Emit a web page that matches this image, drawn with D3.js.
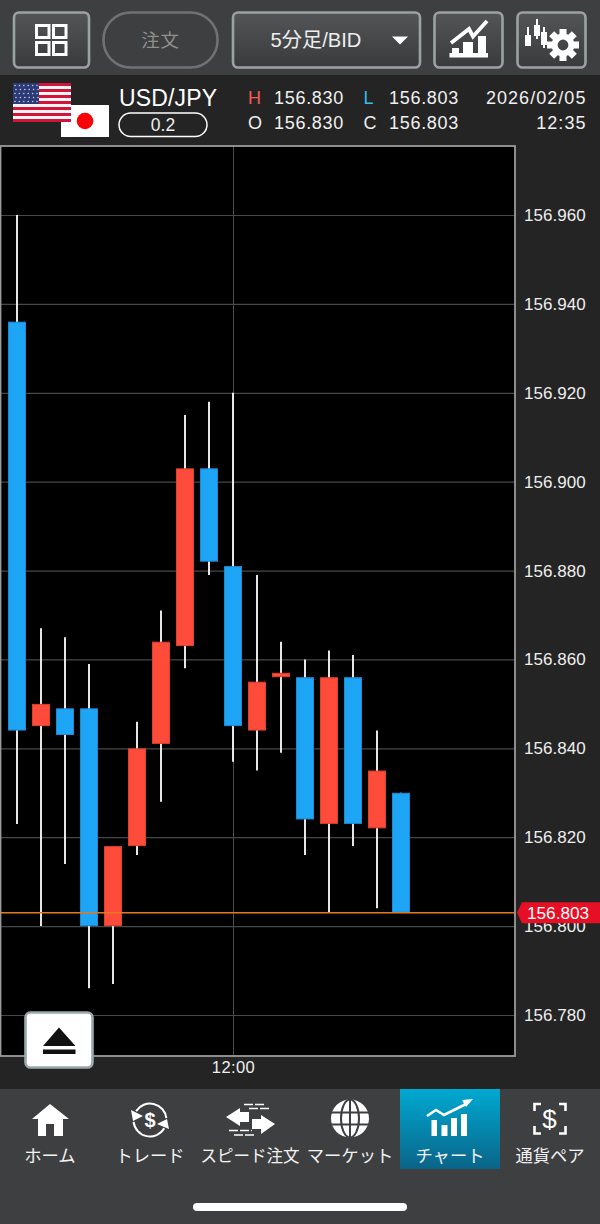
<!DOCTYPE html>
<html><head><meta charset="utf-8">
<script src="https://cdn.jsdelivr.net/npm/d3@7/dist/d3.min.js"></script>
<style>html,body{margin:0;padding:0;background:#232323}svg{display:block}
text{font-family:"Liberation Sans","Noto Sans CJK JP",sans-serif}</style></head><body>
<script>
const times=["11:15","11:20","11:25","11:30","11:35","11:40","11:45","11:50","11:55","12:00","12:05","12:10","12:15","12:20","12:25","12:30","12:35"];
const opens =[156.936,156.845,156.849,156.849,156.800,156.818,156.841,156.863,156.903,156.881,156.844,156.856,156.856,156.823,156.856,156.822,156.830];
const closes=[156.844,156.850,156.843,156.800,156.818,156.840,156.864,156.903,156.882,156.845,156.855,156.857,156.824,156.856,156.823,156.835,156.803];
const highs =[156.960,156.867,156.865,156.859,156.818,156.846,156.871,156.915,156.918,156.920,156.879,156.864,156.860,156.862,156.861,156.844,156.830];
const lows  =[156.823,156.800,156.814,156.786,156.787,156.816,156.828,156.858,156.879,156.837,156.835,156.839,156.816,156.803,156.818,156.804,156.803];
const priceTicks=[156.78,156.80,156.82,156.84,156.86,156.88,156.90,156.92,156.94,156.96];
const timeTicks=["12:00"];
const currentPrice=156.803;
const quoteRows=[["H","156.830","L","156.803","2026/02/05"],["O","156.830","C","156.803","12:35"]];
const navLabels=["ホーム","トレード","スピード注文","マーケット","チャート","通貨ペア"];

const W=600,H=1224;
const svg=d3.select("body").append("svg").attr("width",W).attr("height",H).attr("viewBox",`0 0 ${W} ${H}`);
const defs=svg.append("defs");
function grad(id,a,b){const g=defs.append("linearGradient").attr("id",id).attr("x1",0).attr("x2",0).attr("y1",0).attr("y2",1);
 g.append("stop").attr("offset",0).attr("stop-color",a);g.append("stop").attr("offset",1).attr("stop-color",b);}
grad("btn","#535557","#393a3c");grad("act","#00a9d2","#0a6488");
svg.append("rect").attr("width",W).attr("height",H).attr("fill","#242424");
svg.append("rect").attr("width",W).attr("height",75).attr("fill","#3e3f41");
svg.append("rect").attr("y",1089).attr("width",W).attr("height",135).attr("fill","#3e3f41");

// header buttons
function btn(x,w,r,stroke){svg.append("rect").attr("x",x).attr("y",12.5).attr("width",w).attr("height",55).attr("rx",r).attr("fill",r>10?"#3e3f41":"url(#btn)").attr("stroke",stroke).attr("stroke-width",2.6);}
btn(14,75,5,"#9aa3a3");btn(103.5,114,27,"#6f7274");btn(233,187,5,"#9aa3a3");btn(434.5,68,5,"#9aa3a3");btn(517.5,68,5,"#9aa3a3");
// grid icon
[[35,24],[52,24],[35,41],[52,41]].forEach(([x,y])=>svg.append("rect").attr("x",x+1.5).attr("y",y+1.5).attr("width",12.5).attr("height",12).attr("fill","none").attr("stroke","#fff").attr("stroke-width",3));
svg.append("text").attr("x",160.5).attr("y",47).attr("text-anchor","middle").attr("font-size",18.5).attr("letter-spacing",.8).attr("fill","#8f8f8f").text("注文");
svg.append("text").attr("x",316).attr("y",47).attr("text-anchor","middle").attr("font-size",20.2).attr("fill","#eeeeee").text("5分足/BID");
svg.append("path").attr("d","M392 36.5H408L400 44.5Z").attr("fill","#fff");
// chart icon
svg.append("path").attr("d","M449.5 53H488V57.5H449.5ZM452 48H459V53H452ZM463 42H473V53H463ZM478 36H486V53H478Z").attr("fill","#fff");
svg.append("path").attr("d","M451 43L469 29L473 36.5L487 21").attr("fill","none").attr("stroke","#fff").attr("stroke-width",3.8);
// settings icon
[[528,35,11,27,46],[537,25,11,19,39],[544,32,13,27,48]].forEach(([x,y,h,a,b])=>{
 svg.append("rect").attr("x",x-1).attr("y",a).attr("width",2).attr("height",b-a).attr("fill","#fff");
 svg.append("rect").attr("x",x-3).attr("y",y).attr("width",6).attr("height",h).attr("fill","#fff");});
const gear=svg.append("g").attr("transform","translate(563,45)");
d3.range(8).forEach(i=>gear.append("rect").attr("x",-3.5).attr("y",-16).attr("width",7).attr("height",8).attr("fill","#fff").attr("transform",`rotate(${i*45})`));
gear.append("circle").attr("r",8.4).attr("fill","none").attr("stroke","#fff").attr("stroke-width",6);

// flags
svg.append("rect").attr("x",61).attr("y",105).attr("width",48).attr("height",32).attr("fill","#fff");
svg.append("circle").attr("cx",85).attr("cy",121).attr("r",8.3).attr("fill","#fb0007");
const us=svg.append("g");
d3.range(13).forEach(i=>us.append("rect").attr("x",13).attr("y",83+i*3).attr("width",58).attr("height",3).attr("fill",i%2?"#f4f4f4":"#d2143a"));
us.append("rect").attr("x",13).attr("y",83).attr("width",26).attr("height",21).attr("fill","#2c3a78");
d3.range(5).forEach(r=>d3.range(6).forEach(c=>us.append("circle").attr("cx",15+c*4.4+(r%2?1:0)).attr("cy",85.5+r*4).attr("r",.8).attr("fill","#ccd")));

svg.append("text").attr("x",119).attr("y",106).attr("font-size",23).attr("letter-spacing",.15).attr("fill","#fff").text("USD/JPY");
svg.append("rect").attr("x",119).attr("y",113).attr("width",88).attr("height",23.5).attr("rx",11.7).attr("fill","none").attr("stroke","#fff").attr("stroke-width",1.5);
svg.append("text").attr("x",163).attr("y",131).attr("text-anchor","middle").attr("font-size",17.5).attr("fill","#f0f0f0").text("0.2");

// quote rows
quoteRows.forEach((r,i)=>{const y=104+i*24.5;
 const t=(x,s,c,a,ls)=>svg.append("text").attr("x",x).attr("y",y).attr("font-size",18).attr("letter-spacing",ls||.7).attr("text-anchor",a||"start").attr("fill",c).text(s);
 t(248,r[0],i?"#eeeeee":"#f85a5a");t(274,r[1],"#f0f0f0");
 t(363.5,r[2],i?"#eeeeee":"#35bdf0");t(389,r[3],"#f0f0f0");t(586.5,r[4],"#f0f0f0","end",1.05);
});

// chart
const plot={l:0,r:515,t:146,b:1056};
svg.append("rect").attr("x",plot.l).attr("y",plot.t).attr("width",plot.r-plot.l).attr("height",plot.b-plot.t).attr("fill","#000");
const x=d3.scalePoint().domain(times).range([17,401]);
const y=d3.scaleLinear().domain([156.78,156.96]).range([1015,215]);

const yAxis=d3.axisRight(y).tickValues(priceTicks).tickFormat(d3.format(".3f")).tickSizeInner(-(plot.r-plot.l)).tickSizeOuter(0).tickPadding(9);
const gy=svg.append("g").attr("transform",`translate(${plot.r},0)`).call(yAxis);
gy.select(".domain").remove();
gy.selectAll("line").attr("stroke","#484848").attr("stroke-width",1.2);
gy.selectAll("text").attr("font-size",17).attr("fill","#eeeeee").attr("letter-spacing",.05);

const xAxis=d3.axisBottom(x).tickValues(timeTicks).tickSizeInner(-(plot.b-plot.t)).tickSizeOuter(0).tickPadding(5);
const gx=svg.append("g").attr("transform",`translate(0,${plot.b})`).call(xAxis);
gx.select(".domain").remove();
gx.selectAll("line").attr("stroke","#4c4c4c").attr("stroke-width",1);
gx.selectAll("text").attr("font-size",16.5).attr("fill","#eeeeee").attr("letter-spacing",.4);

const candles=times.map((t,i)=>({t,o:opens[i],c:closes[i],h:highs[i],l:lows[i]}));
const bw=18;
const cg=svg.append("g");
cg.selectAll("line.w").data(candles).join("line").attr("class","w")
 .attr("x1",d=>x(d.t)).attr("x2",d=>x(d.t)).attr("y1",d=>y(d.h)).attr("y2",d=>y(d.l))
 .attr("stroke","#fff").attr("stroke-width",1.8);
cg.selectAll("rect.b").data(candles).join("rect").attr("class","b")
 .attr("x",d=>x(d.t)-bw/2+.5).attr("width",bw-1)
 .attr("y",d=>y(Math.max(d.o,d.c))+.5).attr("height",d=>Math.max(0,Math.abs(y(d.o)-y(d.c))-1))
 .attr("fill",d=>d.c>d.o?"#ff4b3a":"#1fa5f6")
 .attr("stroke",d=>d.c>d.o?"#d8402f":"#1a8bd2").attr("stroke-width",1);

svg.append("line").attr("x1",0).attr("x2",plot.r).attr("y1",y(currentPrice)).attr("y2",y(currentPrice)).attr("stroke","#e8781f").attr("stroke-width",1.5);
svg.append("rect").attr("x",plot.l+.5).attr("y",plot.t).attr("width",plot.r-.5).attr("height",plot.b-plot.t).attr("fill","none").attr("stroke","#9b9b9b").attr("stroke-width",1.8);

// price tag
const ty=y(currentPrice);
svg.append("path").attr("d",`M517 ${ty}L522 ${ty-10.5}H600V${ty+10.5}H522Z`).attr("fill","#e60f25");
svg.append("text").attr("x",527).attr("y",ty+6.2).attr("font-size",17.2).attr("fill","#fff").text(d3.format(".3f")(currentPrice));

// eject button
svg.append("rect").attr("x",25.5).attr("y",1012.5).attr("width",67).attr("height",55).attr("rx",5).attr("fill","#fff").attr("stroke","#9aa8a8").attr("stroke-width",2.6);
svg.append("path").attr("d","M59 1027.5L75.5 1046H43Z M43 1049.5H75.5V1054H43Z").attr("fill","#111");

// nav
svg.append("rect").attr("x",400).attr("y",1089).attr("width",100).attr("height",80).attr("fill","url(#act)");
navLabels.forEach((s,i)=>svg.append("text").attr("x",50+i*100).attr("y",1162).attr("text-anchor","middle").attr("font-size",i==2?16.5:17.3).attr("fill","#f2f2f2").text(s));
// home
svg.append("path").attr("d","M50 1104L69 1119H63V1136H54V1124H46V1136H38V1119H32Z").attr("fill","#fff");
// trade
const tr=svg.append("g").attr("transform","translate(150,1120)");
const arc=d3.arc().innerRadius(15.5).outerRadius(17.5);
tr.append("path").attr("d",arc({startAngle:-1.0,endAngle:1.45})).attr("fill","#fff");
tr.append("path").attr("d",arc({startAngle:2.1,endAngle:4.6})).attr("fill","#fff");
tr.append("path").attr("d","M-19 -10L-7 -4L-17 1Z M19 9L7 4L17 -1Z").attr("fill","#fff");
tr.append("text").attr("y",7).attr("text-anchor","middle").attr("font-size",20).attr("font-weight","bold").attr("fill","#fff").text("$");
// speed
svg.append("path").attr("d","M226 1117L240 1108V1112H249V1122H240V1126Z M275 1124L261 1115V1119H252V1129H261V1134Z").attr("fill","#fff");
svg.append("path").attr("d","M244 1104.5H266M249 1108.5H271M229 1130.5H252M234 1135H256").attr("stroke","#fff").attr("stroke-width",1.4).attr("stroke-dasharray","9 2");
// globe
const gl=svg.append("g").attr("transform","translate(350,1118.5)");
gl.append("circle").attr("r",19).attr("fill","#fff");
gl.append("path").attr("d","M-20 -6H20M-20 6H20M0 -20V20").attr("stroke","#3e3f41").attr("stroke-width",2);
gl.append("ellipse").attr("rx",9).attr("ry",19).attr("fill","none").attr("stroke","#3e3f41").attr("stroke-width",2);
// chart tab
svg.append("path").attr("d","M431.5 1136V1120H437V1136ZM441.5 1136V1125H447.5V1136ZM451 1136V1118H457V1136ZM461 1136V1114H467V1136Z").attr("fill","#fff");
svg.append("path").attr("d","M427 1116L436 1110L444 1115L466 1104").attr("fill","none").attr("stroke","#fff").attr("stroke-width",2.6);
svg.append("path").attr("d","M462 1100L473 1099L466 1107Z").attr("fill","#fff");
// currency
svg.append("path").attr("d","M534.5 1111V1104H541M559 1104H565.5V1111M534.5 1126V1133.5H541M559 1133.5H565.5V1126").attr("fill","none").attr("stroke","#fff").attr("stroke-width",2.6);
svg.append("text").attr("x",549.5).attr("y",1128).attr("text-anchor","middle").attr("font-size",26).attr("fill","#fff").text("$");
// home indicator
svg.append("rect").attr("x",193).attr("y",1203).attr("width",214).attr("height",8).attr("rx",4).attr("fill","#fff");
</script></body></html>
